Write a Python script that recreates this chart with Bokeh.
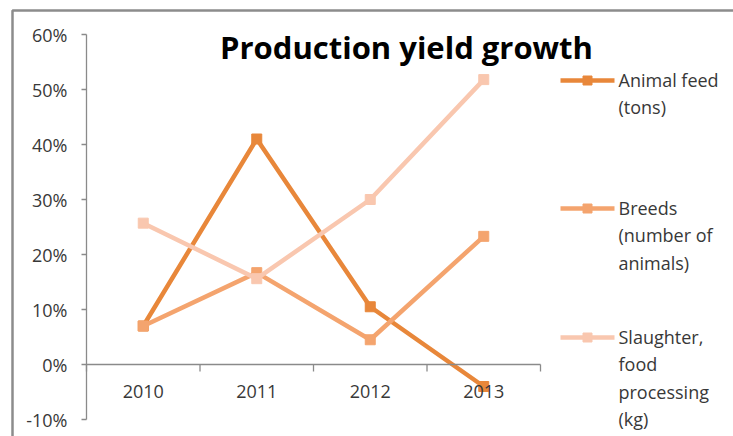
from bokeh.plotting import figure
from bokeh.models import Range1d, LinearAxis, FixedTicker, NumeralTickFormatter
from bokeh.core.properties import value
from bokeh.embed import file_html
from bokeh.resources import INLINE

# ---- data ----
years = ["2010", "2011", "2012", "2013"]
animal_feed = [0.07, 0.41, 0.105, -0.04]
breeds = [0.07, 0.167, 0.045, 0.233]
slaughter = [0.257, 0.156, 0.30, 0.518]
series_names = ["Animal feed\n(tons)", "Breeds\n(number of\nanimals)", "Slaughter,\nfood\nprocessing\n(kg)"]
series_colors = ["#E8873A", "#F4A46E", "#F9C7AF"]
y_ticks = [-0.1, 0.0, 0.1, 0.2, 0.3, 0.4, 0.5, 0.6]
title_text = "Production yield growth"

W, H = 733, 436
# pixel <-> data mapping (frame covers the whole canvas)
X0, DX = 86.0, 113.5
Y0, DY = 364.0, 550.0
def xd(px):
    return (px - X0) / DX
def yd(py):
    return (Y0 - py) / DY

FONT = "Open Sans"
TXT = "#383838"
AX = "#8a8a8a"

p = figure(width=W, height=H, output_backend="svg", toolbar_location=None,
           x_range=Range1d(xd(0), xd(W)), y_range=Range1d(yd(H), yd(0)),
           x_axis_location=None, y_axis_location=None,
           min_border=0, min_border_left=0, min_border_right=0,
           min_border_top=0, min_border_bottom=0)
p.outline_line_color = None
p.xgrid.visible = False
p.ygrid.visible = False
p.background_fill_color = "white"
p.border_fill_color = "white"

# outer chart border (top and left visible)
p.line([xd(12), xd(12), xd(W + 5)], [yd(H + 5), yd(10), yd(10)],
       line_color="#8c8c8c", line_width=2.5)

# x axis: line at 0, labels centred on categories, ticks on category boundaries
cats = list(range(len(years) + 1))
centers = [i + 0.5 for i in range(len(years))]
xl = LinearAxis(fixed_location=0, bounds=(0, len(years)),
                ticker=FixedTicker(ticks=centers, minor_ticks=[]),
                major_label_overrides={c: y for c, y in zip(centers, years)},
                axis_line_color=AX, axis_line_width=1.3,
                major_tick_line_color=None,
                major_tick_out=0, major_tick_in=0,
                major_label_standoff=20,
                major_label_text_font=FONT, major_label_text_font_size="18px",
                major_label_text_color=TXT)
p.add_layout(xl, "below")
p.segment(x0=cats, y0=[0] * len(cats), x1=cats, y1=[yd(Y0 + 7)] * len(cats),
          line_color=AX, line_width=1.3)

ya = LinearAxis(fixed_location=0, bounds=(y_ticks[0], y_ticks[-1]),
                ticker=FixedTicker(ticks=y_ticks, minor_ticks=[]),
                formatter=NumeralTickFormatter(format="0%"),
                major_tick_out=5, major_tick_in=0,
                major_tick_line_color=AX, axis_line_color=AX,
                major_tick_line_width=1.3, axis_line_width=1.3,
                major_label_standoff=14,
                major_label_text_font=FONT, major_label_text_font_size="18px",
                major_label_text_color=TXT)
p.add_layout(ya, "left")

# series
all_series = [animal_feed, breeds, slaughter]
for vals, col in zip(all_series, series_colors):
    p.line(centers, vals, line_color=col, line_width=4.5)
    p.scatter(centers, vals, marker="square", size=10, fill_color=col, line_color=col)

# title
p.text(x=[xd(406)], y=[yd(46)], text=[title_text], text_align="center",
       text_baseline="middle", text_font=value(FONT), text_font_style="bold",
       text_font_size="31px", text_color="black")

# legend (manual)
leg_y = [80, 208, 337]
for name, col, ly in zip(series_names, series_colors, leg_y):
    p.line([xd(560), xd(614)], [yd(ly), yd(ly)], line_color=col, line_width=4.5)
    p.scatter([xd(587)], [yd(ly)], marker="square", size=9, fill_color=col, line_color=col)
    p.text(x=[xd(618)], y=[yd(ly - 13)], text=[name], text_align="left",
           text_baseline="top", text_font=value(FONT), text_font_size="18px",
           text_color=TXT, text_line_height=1.15)

open("out.html", "w").write(file_html(p, INLINE))
